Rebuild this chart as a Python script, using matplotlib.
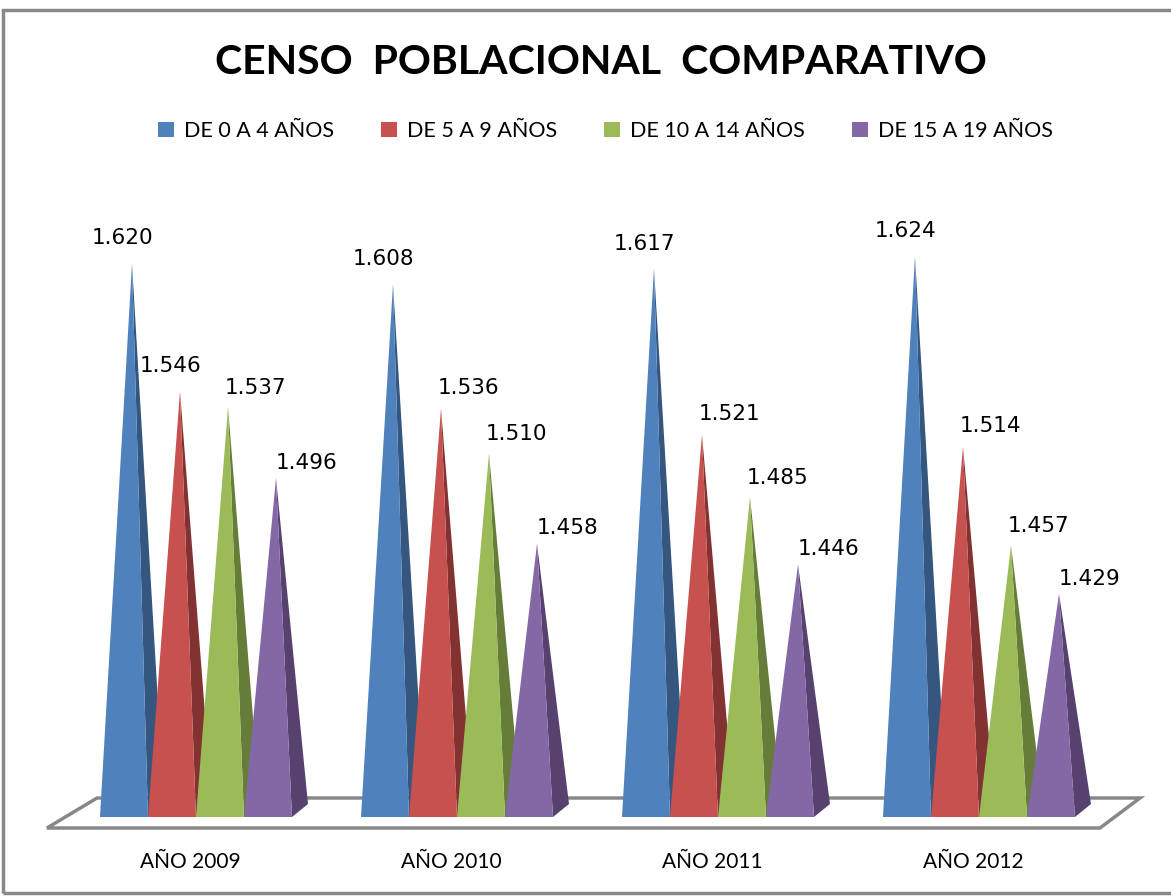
import matplotlib.pyplot as plt
from matplotlib.patches import Polygon, Rectangle, Patch

# data
years = ['AÑO 2009', 'AÑO 2010', 'AÑO 2011', 'AÑO 2012']
series = ['DE 0 A 4 AÑOS', 'DE 5 A 9 AÑOS', 'DE 10 A 14 AÑOS', 'DE 15 A 19 AÑOS']
age_0_4 = [1620, 1608, 1617, 1624]
age_5_9 = [1546, 1536, 1521, 1514]
age_10_14 = [1537, 1510, 1485, 1457]
age_15_19 = [1496, 1458, 1446, 1429]
values = [age_0_4, age_5_9, age_10_14, age_15_19]

base = 1300
front_cols = ['#4F81BD', '#C6514F', '#9BBB59', '#8468A6']
side_cols = ['#34567F', '#823231', '#667D3A', '#56416F']
# label offsets (points) from apex, per series
lab_off = [(-7, 18), (20, 15), (20, 14), (22, 11)]

fig = plt.figure(figsize=(11.71, 8.96), dpi=100)
ax = fig.add_axes([0, 0, 1, 1])
ax.set_xlim(-190 / 261, (1171 - 190) / 261)
ax.set_ylim(1300 - 79 / 1.73, 1300 + 817 / 1.73)
ax.axis('off')

# floor
ppu = 1.73
def vy(py):
    return base + (817 - py) / ppu
def vx(px):
    return (px - 190) / 261
floor = Polygon([(vx(97), vy(798)), (vx(1140), vy(798)), (vx(1100), vy(828)), (vx(47), vy(828))],
                closed=True, facecolor='white', edgecolor='#888888', lw=2.5, zorder=1)
ax.add_patch(floor)

w = 48 / 261
dx = 16 / 261
dy = 13 / ppu
for g in range(len(years)):
    for s in range(len(series)):
        left = g - 90 / 261 + s * w
        right = left + w
        top = values[s][g]
        apex = ((left + right) / 2 + dx / 2, top)
        side = Polygon([(right, base), (right + dx, base + dy), apex], closed=True,
                       facecolor=side_cols[s], edgecolor='none', zorder=2 + s * 2)
        front = Polygon([(left, base), (right, base), apex], closed=True,
                        facecolor=front_cols[s], edgecolor='none', zorder=3 + s * 2)
        ax.add_patch(side)
        ax.add_patch(front)
        off = lab_off[s]
        if g == 0 and s == 1:
            off = (-7, 18)  # excel pushed this one left
        lbl = f'{top / 1000:.3f}'
        ax.annotate(lbl, apex, xytext=off, textcoords='offset points',
                    ha='center', va='center', fontsize=15.5, family='DejaVu Sans', zorder=20)
    ax.text(g, vy(862), years[g], ha='center', va='center', fontsize=15, family='Lato')

fig.text(0.513, 1 - 62 / 896, 'CENSO  POBLACIONAL  COMPARATIVO', ha='center', va='center',
         fontsize=29.5, fontweight='bold', family='Lato')

handles = [Patch(facecolor=c, edgecolor='none') for c in front_cols]
fig.legend(handles, series, loc='center', bbox_to_anchor=(0.517, 1 - 131 / 896), ncol=4,
           frameon=False, prop={'family': 'Lato', 'size': 15.5}, handlelength=0.75,
           handleheight=0.75, handletextpad=0.45, columnspacing=2.2)

fig.patches.append(Rectangle((3 / 1171, 3 / 896), 1.2, 1 - 13 / 896, transform=fig.transFigure,
                             fill=False, edgecolor='#888888', lw=2.5))

fig.savefig('out.png', dpi=100)
